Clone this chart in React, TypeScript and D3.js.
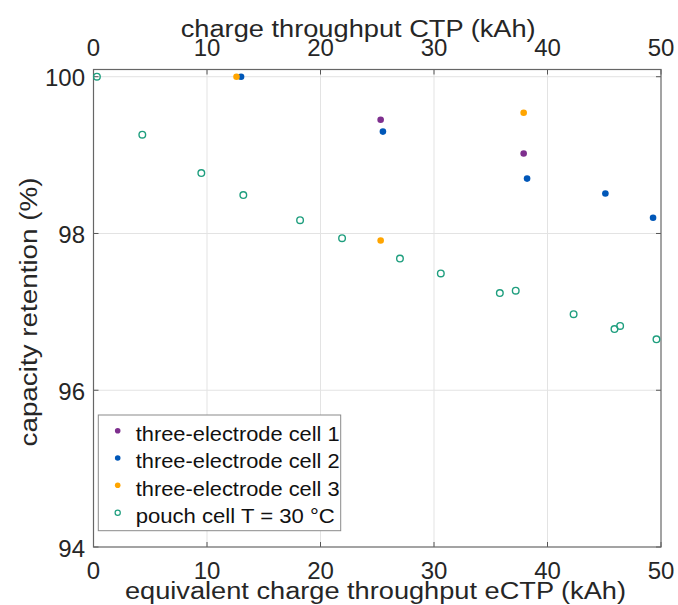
import React from "react";
import * as d3 from "d3";

const xTicks = [0, 10, 20, 30, 40, 50];
const yTicks = [94, 96, 98, 100];

const pouchX = [0.3, 4.3, 9.5, 13.2, 18.2, 21.9, 27.0, 30.6, 35.8, 37.2, 42.3, 45.9, 46.4, 49.6];
const pouchY = [100, 99.26, 98.77, 98.49, 98.17, 97.94, 97.68, 97.49, 97.24, 97.27, 96.97, 96.78, 96.82, 96.65];

const cell1X = [25.3, 37.9];
const cell1Y = [99.45, 99.02];

const cell2X = [13.0, 25.5, 38.2, 45.1, 49.3];
const cell2Y = [100, 99.3, 98.7, 98.51, 98.2];

const cell3X = [12.6, 25.3, 37.9];
const cell3Y = [100, 97.91, 99.54];

const legendLabels = [
  "three-electrode cell 1",
  "three-electrode cell 2",
  "three-electrode cell 3",
  "pouch cell T = 30 °C",
];

const C1 = "#7E2F8E";
const C2 = "#0057B8";
const C3 = "#FFA500";
const CP = "#1E9E7E";

const W = 678;
const H = 605;
const L = 93.5;
const R = 661;
const T = 69.5;
const B = 547;

const FONT = "'Liberation Sans', Arial, Helvetica, sans-serif";
const TXT = "#262626";

export default function App() {
  const x = d3.scaleLinear().domain([0, 50]).range([L, R]);
  const y = d3.scaleLinear().domain([94, 100.092]).range([B, T]);

  const filled = (xs: number[], ys: number[], color: string) =>
    xs.map((v, i) => <circle key={color + i} cx={x(v)} cy={y(ys[i])} r={3.3} fill={color} />);

  const legendColors = [C1, C2, C3];
  const baseY = [441, 468.3, 495.6, 523];
  const lens = [204, 204, 204, 199];

  return (
    <svg
      width={W}
      height={H}
      style={{ position: "absolute", left: 0, top: 0, background: "#fff" }}
      fontFamily={FONT}
    >
      <rect x={0} y={0} width={W} height={H} fill="#fff" />
      {/* grid */}
      {xTicks.filter((t) => t > 0 && t < 50).map((t) => (
        <line key={"gx" + t} x1={x(t)} x2={x(t)} y1={T} y2={B} stroke="#e3e3e3" strokeWidth={1} />
      ))}
      {yTicks.filter((t) => t > 94).map((t) => (
        <line key={"gy" + t} x1={L} x2={R} y1={y(t)} y2={y(t)} stroke="#e3e3e3" strokeWidth={1} />
      ))}
      {/* ticks */}
      {xTicks.map((t) => (
        <g key={"tx" + t}>
          <line x1={x(t)} x2={x(t)} y1={B} y2={B - 5} stroke="#555" />
          <line x1={x(t)} x2={x(t)} y1={T} y2={T + 5} stroke="#555" />
        </g>
      ))}
      {yTicks.map((t) => (
        <g key={"ty" + t}>
          <line x1={L} x2={L + 5} y1={y(t)} y2={y(t)} stroke="#555" />
          <line x1={R} x2={R - 5} y1={y(t)} y2={y(t)} stroke="#555" />
        </g>
      ))}
      {/* axis box */}
      <rect x={L} y={T} width={R - L} height={B - T} fill="none" stroke="#666" strokeWidth={1.2} />

      {/* data */}
      {pouchX.map((v, i) => (
        <circle key={"p" + i} cx={x(v)} cy={y(pouchY[i])} r={3.3} fill="none" stroke={CP} strokeWidth={1.4} />
      ))}
      {filled(cell1X, cell1Y, C1)}
      {filled(cell2X, cell2Y, C2)}
      {filled(cell3X, cell3Y, C3)}

      {/* tick labels */}
      {xTicks.map((t) => (
        <text key={"lb" + t} x={x(t)} y={579} fontSize={24} textAnchor="middle" fill={TXT}>
          {t}
        </text>
      ))}
      {xTicks.map((t) => (
        <text key={"lt" + t} x={x(t)} y={55.5} fontSize={24} textAnchor="middle" fill={TXT}>
          {t}
        </text>
      ))}
      {yTicks.map((t) => (
        <text key={"ly" + t} x={L - 8.5} y={y(t) + 9.5} fontSize={24} textAnchor="end" fill={TXT}>
          {t}
        </text>
      ))}

      {/* titles */}
      <text x={180.7} y={37} fontSize={23} fill={TXT} textLength={355} lengthAdjust="spacingAndGlyphs">
        charge throughput CTP (kAh)
      </text>
      <text x={125} y={599} fontSize={23} fill={TXT} textLength={501} lengthAdjust="spacingAndGlyphs">
        equivalent charge throughput eCTP (kAh)
      </text>
      <text
        transform="translate(37,446.5) rotate(-90)"
        fontSize={23}
        fill={TXT}
        textLength={269}
        lengthAdjust="spacingAndGlyphs"
      >
        capacity retention (%)
      </text>

      {/* legend */}
      <rect x={98.3} y={415} width={242.4} height={115.7} fill="#fff" stroke="#8a8a8a" strokeWidth={1} />
      {legendLabels.map((lab, i) => (
        <g key={"lg" + i}>
          {i < 3 ? (
            <circle cx={117.7} cy={baseY[i] - 10.3} r={2.8} fill={legendColors[i]} />
          ) : (
            <circle cx={117.7} cy={baseY[i] - 10.3} r={2.6} fill="none" stroke={CP} strokeWidth={1.2} />
          )}
          <text
            x={135.7}
            y={baseY[i]}
            fontSize={19.5}
            fill="#111"
            textLength={lens[i]}
            lengthAdjust="spacingAndGlyphs"
          >
            {lab}
          </text>
        </g>
      ))}
    </svg>
  );
}
